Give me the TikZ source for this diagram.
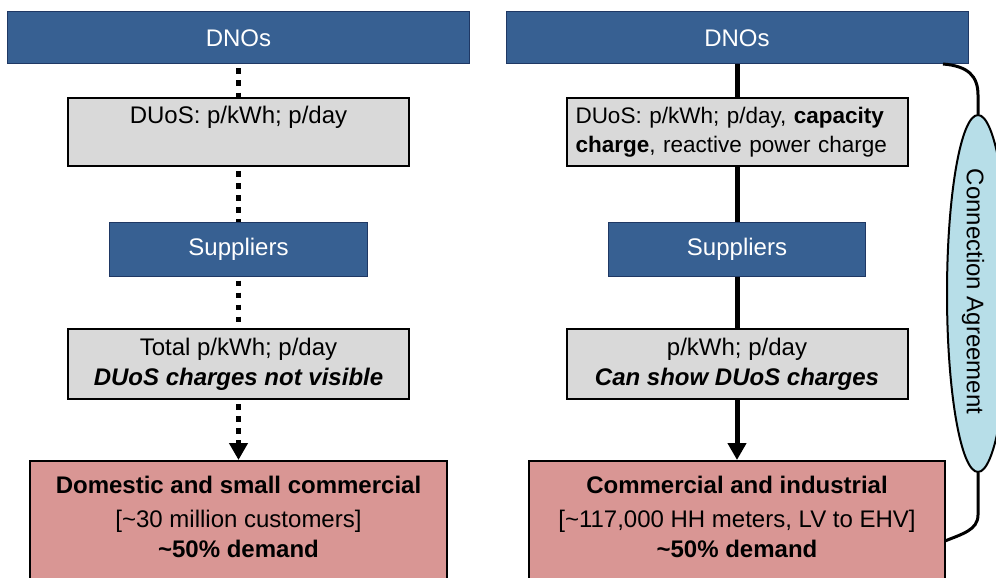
\documentclass[tikz,border=0pt]{standalone}
\usepackage{fontspec}
\setmainfont{Liberation Sans}
\usetikzlibrary{arrows.meta,shapes.geometric}
\definecolor{dnoblue}{HTML}{376092}
\definecolor{dnoedge}{HTML}{1F3864}
\definecolor{greyfill}{HTML}{D9D9D9}
\definecolor{redfill}{HTML}{D99694}
\definecolor{ellfill}{HTML}{B7DEE8}
\begin{document}
\begin{tikzpicture}[x=1pt,y=-1pt,
  font=\fontsize{24}{30}\selectfont,
  bluebox/.style={draw=dnoedge,line width=1pt,fill=dnoblue,text=white,inner sep=0pt},
  greybox/.style={draw=black,line width=2pt,fill=greyfill,inner sep=0pt,align=center},
  redbox/.style={draw=black,line width=2pt,fill=redfill,inner sep=0pt},
  redtext/.style={anchor=north,align=center,inner sep=0pt},
  dotline/.style={line width=5pt,dash pattern=on 5.5pt off 6.5pt,dash phase=8pt},
  solidline/.style={line width=5pt},
  arrowend/.style={-{Triangle[length=17pt,width=18pt]}},
  link/.style={line width=3pt}
]
\useasboundingbox (0,0) rectangle (996,578);
\clip (0,0) rectangle (996,578);

% left column
\node[bluebox,minimum width=462pt,minimum height=52pt] (dnoL) at (238.5,38) {DNOs};
\node[greybox,minimum width=341pt,minimum height=68pt] (duosL) at (238.5,132) {DUoS: p/kWh; p/day\\\phantom{p}};
\node[bluebox,minimum width=258pt,minimum height=54pt] (supL) at (238.5,249) {Suppliers};
\node[greybox,minimum width=341pt,minimum height=70pt] (totL) at (238.5,364) {Total p/kWh; p/day\\\textbf{\textit{DUoS charges not visible}}};
\node[redbox,minimum width=417pt,minimum height=140pt] (custL) at (238.5,531) {};
\node[redtext] (custLt) at (238.5,475.5) {\textbf{Domestic and small commercial}\\[4pt]{}[\textasciitilde30 million customers]\\\textbf{\textasciitilde50\% demand}};

% right column
\node[bluebox,minimum width=462pt,minimum height=52pt] (dnoR) at (737,38) {DNOs};
\node[greybox,minimum width=341pt,minimum height=68pt,text width=323pt,align=left,font=\fontsize{22.5}{29}\selectfont] (duosR) at (737,132) {DUoS: p/kWh; p/day, \textbf{capacity}\\\textbf{charge}, reactive power charge};
\node[bluebox,minimum width=257pt,minimum height=54pt] (supR) at (737,249) {Suppliers};
\node[greybox,minimum width=341pt,minimum height=70pt] (pkR) at (737,364) {p/kWh; p/day\\\textbf{\textit{Can show DUoS charges}}};
\node[redbox,minimum width=416pt,minimum height=140pt] (custR) at (737,531) {};
\node[redtext] (custRt) at (737,475.5) {\textbf{Commercial and industrial}\\[4pt]{}[\textasciitilde117,000 HH meters, LV to EHV]\\\textbf{\textasciitilde50\% demand}};

% connection agreement
\node[ellipse,draw=black,line width=2pt,fill=ellfill,minimum width=62pt,minimum height=357pt,inner sep=0pt] (ell) at (978,293.5) {};
\node[rotate=-90,inner sep=0pt] (ellt) at (973,291.5) {Connection Agreement};
\coordinate (c1) at (943,64);
\coordinate (c2) at (945,541);
\draw[link] (c1) .. controls (968,66) and (978,76) .. (978,95) -- (ell.north);
\draw[link] (ell.south) -- (978,515) .. controls (978,530) and (962,534) .. (c2);

% connectors
\draw[dotline] (dnoL) -- (duosL);
\draw[dotline] (duosL) -- (supL);
\draw[dotline] (supL) -- (totL);
\draw[dotline,arrowend] (totL) -- (custL);
\draw[solidline] (dnoR) -- (duosR);
\draw[solidline] (duosR) -- (supR);
\draw[solidline] (supR) -- (pkR);
\draw[solidline,arrowend] (pkR) -- (custR);
\end{tikzpicture}
\end{document}
